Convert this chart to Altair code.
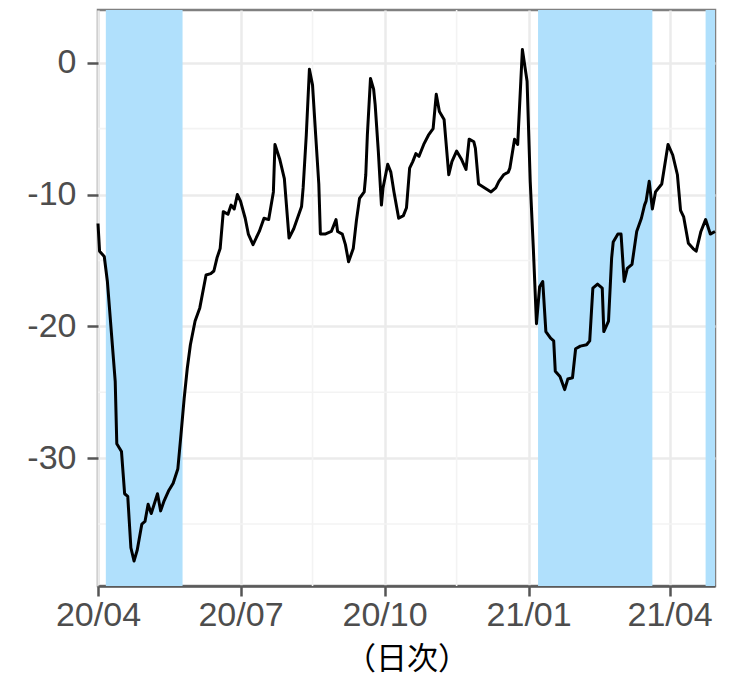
import altair as alt
import pandas as pd

# ---- data ----
dates = [
    "2020-04-01", "2020-04-02", "2020-04-05", "2020-04-07", "2020-04-12", "2020-04-13",
    "2020-04-16", "2020-04-18", "2020-04-20", "2020-04-22", "2020-04-24", "2020-04-26",
    "2020-04-29", "2020-05-01", "2020-05-03", "2020-05-05", "2020-05-09", "2020-05-11",
    "2020-05-13", "2020-05-16", "2020-05-19", "2020-05-22", "2020-05-24", "2020-05-26",
    "2020-05-28", "2020-05-30", "2020-06-02", "2020-06-05", "2020-06-09", "2020-06-12",
    "2020-06-14", "2020-06-16", "2020-06-18", "2020-06-20", "2020-06-23", "2020-06-25",
    "2020-06-27", "2020-06-29", "2020-07-01", "2020-07-04", "2020-07-06", "2020-07-09",
    "2020-07-13", "2020-07-16", "2020-07-19", "2020-07-22", "2020-07-23", "2020-07-26",
    "2020-07-29", "2020-08-01", "2020-08-04", "2020-08-09", "2020-08-10", "2020-08-12",
    "2020-08-14", "2020-08-16", "2020-08-18", "2020-08-20", "2020-08-21", "2020-08-24",
    "2020-08-28", "2020-08-31", "2020-09-01", "2020-09-04", "2020-09-06", "2020-09-08",
    "2020-09-11", "2020-09-13", "2020-09-15", "2020-09-18", "2020-09-19", "2020-09-20",
    "2020-09-22", "2020-09-24", "2020-09-25", "2020-09-27", "2020-09-29", "2020-09-30",
    "2020-10-03", "2020-10-05", "2020-10-07", "2020-10-10", "2020-10-13", "2020-10-15",
    "2020-10-17", "2020-10-19", "2020-10-21", "2020-10-23", "2020-10-26", "2020-10-29",
    "2020-11-01", "2020-11-03", "2020-11-05", "2020-11-08", "2020-11-11", "2020-11-13",
    "2020-11-16", "2020-11-19", "2020-11-22", "2020-11-24", "2020-11-27", "2020-11-28",
    "2020-11-30", "2020-12-04", "2020-12-08", "2020-12-11", "2020-12-13", "2020-12-16",
    "2020-12-19", "2020-12-20", "2020-12-23", "2020-12-25", "2020-12-27", "2020-12-28",
    "2020-12-31", "2021-01-02", "2021-01-04", "2021-01-06", "2021-01-08", "2021-01-10",
    "2021-01-12", "2021-01-15", "2021-01-17", "2021-01-18", "2021-01-21", "2021-01-24",
    "2021-01-26", "2021-01-29", "2021-01-31", "2021-02-03", "2021-02-07", "2021-02-09",
    "2021-02-11", "2021-02-14", "2021-02-17", "2021-02-18", "2021-02-21", "2021-02-23",
    "2021-02-24", "2021-02-27", "2021-03-01", "2021-03-03", "2021-03-05", "2021-03-08",
    "2021-03-11", "2021-03-14", "2021-03-16", "2021-03-17", "2021-03-19", "2021-03-21",
    "2021-03-23", "2021-03-27", "2021-03-31", "2021-04-03", "2021-04-06", "2021-04-08",
    "2021-04-10", "2021-04-13", "2021-04-16", "2021-04-18", "2021-04-21", "2021-04-24",
    "2021-04-27", "2021-04-30",
]
values = [
    -12.2, -14.3, -14.7, -16.6, -24.2, -28.9,
    -29.5, -32.7, -32.9, -36.8, -37.8, -37.0,
    -35.0, -34.8, -33.5, -34.2, -32.7, -34.0,
    -33.3, -32.5, -31.9, -30.8, -28.2, -25.5,
    -23.2, -21.4, -19.6, -18.6, -16.1, -16.0,
    -15.8, -14.8, -14.1, -11.3, -11.5, -10.8,
    -11.1, -10.0, -10.5, -11.8, -13.0, -13.8,
    -12.8, -11.8, -11.9, -9.8, -6.2, -7.3,
    -8.8, -13.3, -12.6, -10.9, -9.5, -5.5,
    -0.5, -1.7, -5.5, -9.2, -13.0, -13.0,
    -12.8, -11.9, -12.8, -13.0, -13.8, -15.1,
    -14.1, -12.0, -10.3, -9.8, -8.5, -5.5,
    -1.2, -2.0, -3.2, -6.7, -10.8, -9.5,
    -7.7, -8.3, -9.8, -11.8, -11.6, -11.0,
    -8.0, -7.5, -6.9, -7.1, -6.2, -5.5,
    -5.0, -2.4, -3.7, -4.3, -8.5, -7.5,
    -6.7, -7.3, -8.1, -5.8, -6.0, -6.5,
    -9.2, -9.5, -9.8, -9.5, -9.0, -8.5,
    -8.3, -8.0, -5.8, -6.2, -1.4, 1.0,
    -1.4, -9.0, -14.1, -19.8, -17.0, -16.6,
    -20.4, -20.9, -21.1, -23.4, -23.8, -24.8,
    -24.0, -23.9, -21.7, -21.5, -21.4, -21.1,
    -17.1, -16.8, -17.1, -20.4, -19.6, -14.8,
    -13.6, -13.0, -13.0, -16.6, -15.6, -15.3,
    -12.8, -11.8, -10.8, -10.5, -9.0, -11.1,
    -9.8, -9.2, -6.2, -7.0, -8.5, -11.2,
    -11.7, -13.7, -14.1, -14.3, -12.8, -11.9,
    -13.0, -12.8,
]

shade_start = ["2020-04-06", "2021-01-07", "2021-04-24"]
shade_end = ["2020-05-25", "2021-03-21", "2021-04-30"]

x_ticks = ["2020-04-01", "2020-07-01", "2020-10-01", "2021-01-01", "2021-04-01"]
x_minor = ["2020-05-16", "2020-08-16", "2020-11-16", "2021-02-15"]
y_ticks = [-30, -20, -10, 0]
y_minor = [-35, -25, -15, -5]
x_domain = ["2020-04-01", "2021-04-30"]
y_domain = [-39.7, 4.0]
x_title = "（日次）"


def dt(s):
    y, m, d = map(int, s.split("-"))
    return alt.DateTime(year=y, month=m, date=d, utc=True)


xscale = alt.Scale(type="utc", domain=[dt(s) for s in x_domain], nice=False)
yscale = alt.Scale(domain=y_domain, nice=False, zero=False)

x_axis = alt.Axis(
    values=[dt(s) for s in x_ticks],
    format="%y/%m",
    grid=True,
    gridColor="#ebebeb",
    gridWidth=2.5,
    domain=True,
    domainColor="#5a5a5a",
    domainWidth=2.5,
    ticks=True,
    tickColor="#555555",
    tickWidth=2.5,
    tickSize=10,
    labelFont="Liberation Sans",
    labelFontSize=34,
    labelColor="#4d4d4d",
    labelPadding=2,
    labelFlush=False,
    labelOverlap=False,
    titleFont="Noto Sans CJK JP",
    titleFontSize=31,
    titleFontWeight="normal",
    titleColor="black",
    titlePadding=12,
)
y_axis = alt.Axis(
    values=y_ticks,
    labelExpr="'' + datum.value",
    grid=True,
    gridColor="#ebebeb",
    gridWidth=2.5,
    domain=False,
    ticks=True,
    tickColor="#555555",
    tickWidth=2.5,
    tickSize=11,
    labelFont="Liberation Sans",
    labelFontSize=34,
    labelColor="#4d4d4d",
    labelPadding=11,
    minExtent=85,
    maxExtent=85,
)

df_line = pd.DataFrame({"date": dates, "value": values})
df_shade = pd.DataFrame({"start": shade_start, "end": shade_end})
df_xm = pd.DataFrame({"xm": x_minor})
df_ym = pd.DataFrame({"ym": y_minor})

minor_color = "#f3f3f3"

vminor = alt.Chart(df_xm).mark_rule(color=minor_color, strokeWidth=1.6).encode(
    x=alt.X("xm:T", scale=xscale, axis=x_axis, title=x_title)
)
hminor = alt.Chart(df_ym).mark_rule(color=minor_color, strokeWidth=1.6).encode(
    y=alt.Y("ym:Q", scale=yscale, axis=y_axis, title=None)
)

shade = alt.Chart(df_shade).mark_rect(color="#b0e0fc").encode(
    x=alt.X("start:T", scale=xscale, axis=x_axis, title=x_title),
    x2="end:T",
)

line = alt.Chart(df_line).mark_line(color="black", strokeWidth=3.0, strokeJoin="round").encode(
    x=alt.X("date:T", scale=xscale, title=x_title, axis=x_axis),
    y=alt.Y("value:Q", scale=yscale, title=None, axis=y_axis),
)

chart = (
    alt.layer(vminor, hminor, shade, line)
    .properties(
        width=617,
        height=576,
        padding={"left": 5, "top": 1, "right": 5, "bottom": 3},
        background="white",
    )
    .configure_view(stroke="#808080", strokeWidth=2.5)
)

chart.save("out.html", embed_options={"renderer": "svg", "actions": False})
